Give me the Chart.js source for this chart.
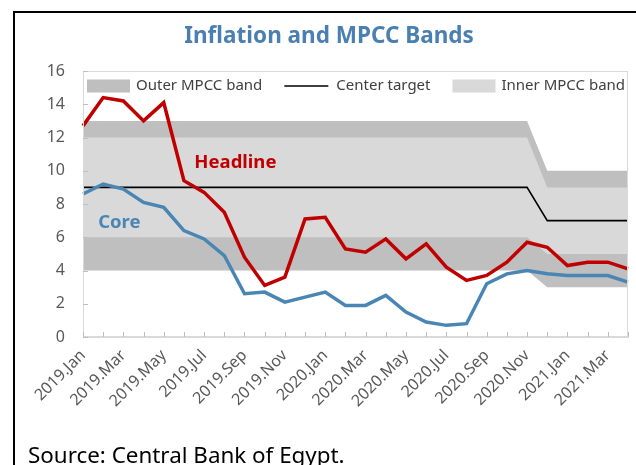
<!DOCTYPE html>
<html>
<head>
<meta charset="utf-8">
<script src="https://cdn.jsdelivr.net/npm/chart.js@4.4.0/dist/chart.umd.min.js"></script>
<style>
  body { margin: 0; background: #fff; overflow: hidden; }
  #frame { position: absolute; left: 13px; top: 11px; width: 640px; height: 470px;
           border-left: 2px solid #000; border-top: 2px solid #000; }
  #chart { position: absolute; left: 0; top: 0; width: 658px; height: 440px; }
  #source { position: absolute; left: 28px; top: 444px; font: 22.4px "Noto Sans", sans-serif;
            line-height: 22px; color: #000; white-space: nowrap; }
</style>
</head>
<body>
<div id="frame"></div>
<canvas id="chart" width="658" height="440"></canvas>
<div id="source">Source: Central Bank of Egypt.</div>
<script>
var months = ['2019.Jan', '2019.Feb', '2019.Mar', '2019.Apr', '2019.May', '2019.Jun', '2019.Jul',
              '2019.Aug', '2019.Sep', '2019.Oct', '2019.Nov', '2019.Dec', '2020.Jan', '2020.Feb',
              '2020.Mar', '2020.Apr', '2020.May', '2020.Jun', '2020.Jul', '2020.Aug', '2020.Sep',
              '2020.Oct', '2020.Nov', '2020.Dec', '2021.Jan', '2021.Feb', '2021.Mar', '2021.Apr'];

var headline = [12.7, 14.4, 14.2, 13.0, 14.1, 9.4, 8.7, 7.5, 4.8, 3.1, 3.6, 7.1, 7.2, 5.3,
                5.1, 5.9, 4.7, 5.6, 4.2, 3.4, 3.7, 4.5, 5.7, 5.4, 4.3, 4.5, 4.5, 4.1];
var core = [8.6, 9.2, 8.9, 8.1, 7.8, 6.4, 5.9, 4.9, 2.6, 2.7, 2.1, 2.4, 2.7, 1.9,
            1.9, 2.5, 1.5, 0.9, 0.7, 0.8, 3.2, 3.8, 4.0, 3.8, 3.7, 3.7, 3.7, 3.3];

// corridor: 9% centre until Nov 2020, 7% from Dec 2020
var centerTarget = [9, 9, 9, 9, 9, 9, 9, 9, 9, 9, 9, 9, 9, 9,
                    9, 9, 9, 9, 9, 9, 9, 9, 9, 7, 7, 7, 7, 7];
var outerHigh = [13, 13, 13, 13, 13, 13, 13, 13, 13, 13, 13, 13, 13, 13,
                 13, 13, 13, 13, 13, 13, 13, 13, 13, 10, 10, 10, 10, 10];
var outerLow = [4, 4, 4, 4, 4, 4, 4, 4, 4, 4, 4, 4, 4, 4,
                4, 4, 4, 4, 4, 4, 4, 4, 4, 3, 3, 3, 3, 3];
var innerHigh = [12, 12, 12, 12, 12, 12, 12, 12, 12, 12, 12, 12, 12, 12,
                 12, 12, 12, 12, 12, 12, 12, 12, 12, 9, 9, 9, 9, 9];
var innerLow = [6, 6, 6, 6, 6, 6, 6, 6, 6, 6, 6, 6, 6, 6,
                6, 6, 6, 6, 6, 6, 6, 6, 6, 5, 5, 5, 5, 5];

var FONT = '"Noto Sans", sans-serif';

// frame, inward tick marks, series names and the legend row inside the plot
var decor = {
    id: 'decor',
    afterDatasetsDraw: function (chart) {
        var ctx = chart.ctx;
        var a = chart.chartArea;
        var x = chart.scales.x;
        var y = chart.scales.y;
        ctx.save();

        ctx.strokeStyle = '#d9d9d9';
        ctx.lineWidth = 1;
        ctx.strokeRect(a.left + 0.5, a.top + 0.5, a.width - 1, a.height - 1);

        ctx.strokeStyle = '#bfbfbf';
        ctx.beginPath();
        x.ticks.forEach(function (t, i) {
            var px = Math.round(x.getPixelForTick(i)) + 0.5;
            ctx.moveTo(px, a.bottom);
            ctx.lineTo(px, a.bottom - 5);
        });
        y.ticks.forEach(function (t, i) {
            var py = Math.round(y.getPixelForTick(i)) + 0.5;
            ctx.moveTo(a.left, py);
            ctx.lineTo(a.left + 5, py);
        });
        ctx.stroke();

        ctx.font = 'bold 18.5px ' + FONT;
        ctx.textAlign = 'center';
        ctx.textBaseline = 'middle';
        ctx.fillStyle = '#c00000';
        ctx.fillText('Headline', x.getPixelForValue(7.55), y.getPixelForValue(10.5));
        ctx.fillStyle = '#4a86b4';
        ctx.fillText('Core', x.getPixelForValue(1.8), y.getPixelForValue(6.9));

        // legend: outer band, center target, inner band
        var ds = chart.data.datasets;
        var items = [ds[0], ds[4], ds[2]];
        var lx = a.left + 4;
        var ly = a.top + 15;
        ctx.font = '15px ' + FONT;
        ctx.textAlign = 'left';
        items.forEach(function (d) {
            if (d.fill !== false) {
                ctx.fillStyle = d.backgroundColor;
                ctx.fillRect(lx, ly - 6.5, 43, 13);
                lx += 49;
            } else {
                ctx.strokeStyle = d.borderColor;
                ctx.lineWidth = 1.6;
                ctx.beginPath();
                ctx.moveTo(lx, ly);
                ctx.lineTo(lx + 44, ly);
                ctx.stroke();
                lx += 52;
            }
            ctx.fillStyle = '#404040';
            ctx.fillText(d.label, lx, ly);
            lx += ctx.measureText(d.label).width + 22;
        });

        ctx.restore();
    }
};

var ctx = document.getElementById('chart').getContext('2d');

var band = { pointRadius: 0, borderWidth: 0, borderColor: 'transparent', tension: 0 };

var chartData = {
    labels: months,
    datasets: [
        Object.assign({ label: 'Outer MPCC band', data: outerHigh, fill: 1, backgroundColor: '#bfbfbf', order: 6 }, band),
        Object.assign({ label: 'Outer low', data: outerLow, fill: false, order: 6 }, band),
        Object.assign({ label: 'Inner MPCC band', data: innerHigh, fill: 3, backgroundColor: '#d9d9d9', order: 5 }, band),
        Object.assign({ label: 'Inner low', data: innerLow, fill: false, order: 5 }, band),
        { label: 'Center target', data: centerTarget, fill: false, borderColor: '#000000',
          borderWidth: 1.6, pointRadius: 0, order: 4 },
        { label: 'Core', data: core, fill: false, borderColor: '#4a86b4',
          borderWidth: 3.5, pointRadius: 0, order: 3 },
        { label: 'Headline', data: headline, fill: false, borderColor: '#c00000',
          borderWidth: 3.5, pointRadius: 0, order: 2 }
    ]
};

var options = {
    responsive: false,
    animation: false,
    devicePixelRatio: 1,
    events: [],
    layout: { padding: { left: 30, right: 30, top: 0, bottom: 0 } },
    plugins: {
        legend: { display: false },
        tooltip: { enabled: false },
        title: {
            display: true,
            text: 'Inflation and MPCC Bands',
            color: '#4a7fb2',
            font: { family: FONT, size: 22.5, weight: 'bold' },
            padding: { top: 23, bottom: 21 }
        }
    },
    scales: {
        x: {
            offset: false,
            grid: { display: false, drawTicks: false },
            border: { color: '#d9d9d9' },
            ticks: {
                autoSkip: false,
                minRotation: 45,
                maxRotation: 45,
                padding: 9,
                color: '#595959',
                font: { family: FONT, size: 16 },
                callback: function (value, index) {
                    return index % 2 === 0 ? this.getLabelForValue(value) : '';
                }
            },
            afterFit: function (scale) { scale.height = 103; }
        },
        y: {
            min: 0,
            max: 16,
            grid: { display: false, drawTicks: false },
            border: { color: '#d9d9d9' },
            ticks: {
                stepSize: 2,
                padding: 18,
                color: '#595959',
                font: { family: FONT, size: 16 }
            },
            afterFit: function (scale) { scale.width = 53; }
        }
    }
};

var myChart = new Chart(ctx, {
    type: 'line',
    data: chartData,
    options: options,
    plugins: [decor]
});
</script>
</body>
</html>
